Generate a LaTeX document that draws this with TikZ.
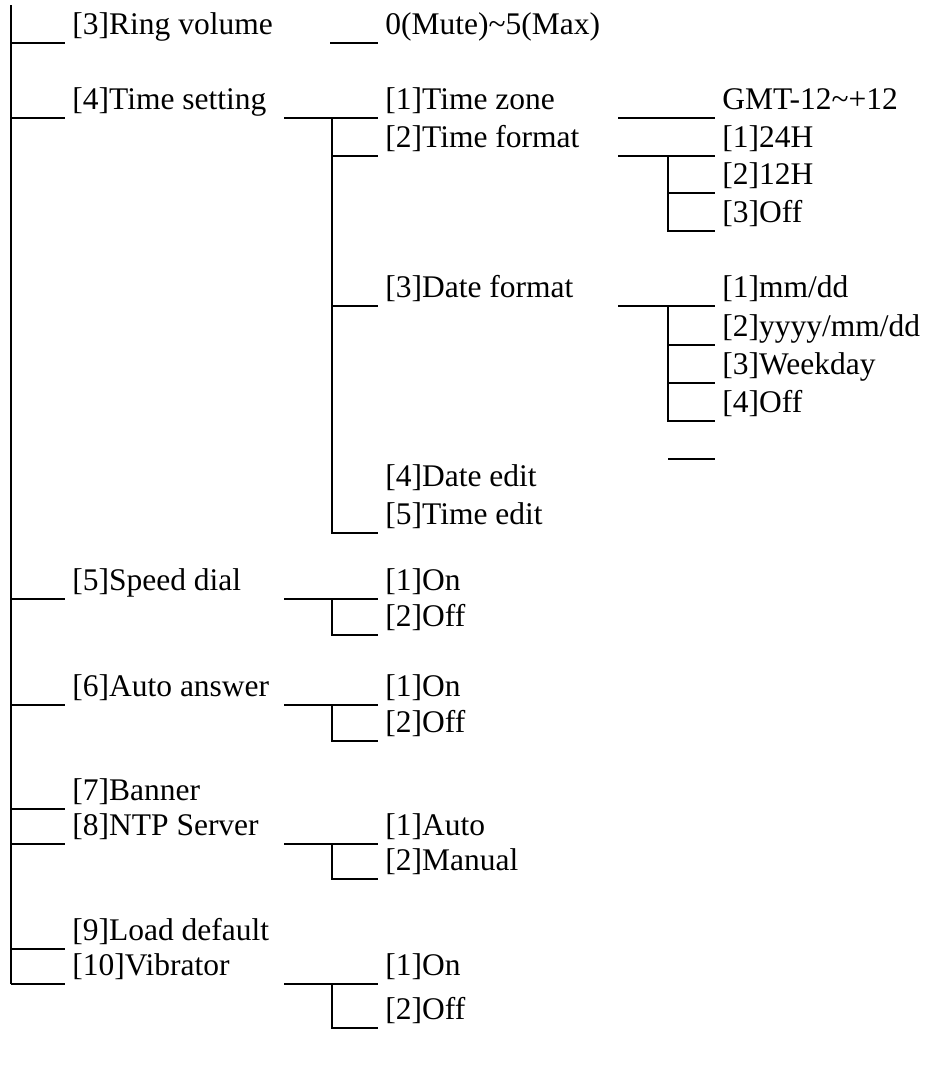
\documentclass[tikz,border=0pt]{standalone}
\usepackage{fontspec}
\setmainfont{Liberation Serif}
\begin{document}
\begin{tikzpicture}[x=0.5pt, y=-0.5pt,
  item/.style={anchor=south west, inner xsep=3.5pt, inner ysep=4pt,
               text depth=0pt, font=\fontsize{15.75}{18}\selectfont},
  branch/.style={-, line width=1pt, black}
]
\useasboundingbox (0,0) rectangle (926,1066);
% trunk and the columns the branches hang from
\coordinate (root) at (11,5);
\coordinate (rootend) at (11,984);
\coordinate (stub) at (330,0);
\coordinate (fork) at (284,0);
\coordinate (spine) at (332,0);
\coordinate (subfork) at (618,0);
\coordinate (subspine) at (668,0);

% first level
\node[item] (ring) at (65,43) {[3]Ring volume};
\node[item] (time) at (65,118) {[4]Time setting};
\node[item] (speed) at (65,599) {[5]Speed dial};
\node[item] (answer) at (65,705) {[6]Auto answer};
\node[item] (banner) at (65,809) {[7]Banner};
\node[item] (ntp) at (65,844) {[8]NTP Server};
\node[item] (load) at (65,949) {[9]Load default};
\node[item] (vib) at (65,984) {[10]Vibrator};

% second level
\node[item] (ringval) at (378,43) {0(Mute)\textasciitilde5(Max)};
\node[item] (zone) at (378,118) {[1]Time zone};
\node[item] (tfmt) at (378,156) {[2]Time format};
\node[item] (dfmt) at (378,306) {[3]Date format};
\node[item] (dedit) at (378,495) {[4]Date edit};
\node[item] (tedit) at (378,533) {[5]Time edit};
\node[item] (son) at (378,599) {[1]On};
\node[item] (soff) at (378,635) {[2]Off};
\node[item] (aon) at (378,705) {[1]On};
\node[item] (aoff) at (378,741) {[2]Off};
\node[item] (nauto) at (378,844) {[1]Auto};
\node[item] (nman) at (378,879) {[2]Manual};
\node[item] (von) at (378,984) {[1]On};
\node[item] (voff) at (378,1028) {[2]Off};

% third level
\node[item] (zoneval) at (715,118) {GMT-12\textasciitilde+12};
\node[item] (h24) at (715,156) {[1]24H};
\node[item] (h12) at (715,193) {[2]12H};
\node[item] (toff) at (715,231) {[3]Off};
\node[item] (mmdd) at (715,306) {[1]mm/dd};
\node[item] (ymd) at (715,345) {[2]yyyy/mm/dd};
\node[item] (wday) at (715,383) {[3]Weekday};
\node[item] (doff) at (715,421) {[4]Off};
\coordinate (dnone) at (715,459);

\draw[branch] (root) -- (rootend);
\foreach \n in {ring,time,speed,answer,banner,ntp,load,vib}
  \draw[branch] (root |- \n.south west) -- (\n.south west);

\draw[branch] (stub |- ringval.south west) -- (ringval.south west);
\draw[branch] (fork |- zone.south west) -- (zone.south west);
\draw[branch] (spine |- zone.south west) -- (spine |- tedit.south west) -- (tedit.south west);
\foreach \n in {tfmt,dfmt}
  \draw[branch] (spine |- \n.south west) -- (\n.south west);

\foreach \a/\b in {son/soff,aon/aoff,nauto/nman,von/voff} {
  \draw[branch] (fork |- \a.south west) -- (\a.south west);
  \draw[branch] (spine |- \a.south west) -- (spine |- \b.south west) -- (\b.south west);
}

\draw[branch] (subfork |- zoneval.south west) -- (zoneval.south west);
\draw[branch] (subfork |- h24.south west) -- (h24.south west);
\draw[branch] (subspine |- h24.south west) -- (subspine |- toff.south west) -- (toff.south west);
\draw[branch] (subspine |- h12.south west) -- (h12.south west);
\draw[branch] (subfork |- mmdd.south west) -- (mmdd.south west);
\draw[branch] (subspine |- mmdd.south west) -- (subspine |- doff.south west) -- (doff.south west);
\foreach \n in {ymd,wday}
  \draw[branch] (subspine |- \n.south west) -- (\n.south west);
\draw[branch] (subspine |- dnone) -- (dnone);
\end{tikzpicture}
\end{document}
